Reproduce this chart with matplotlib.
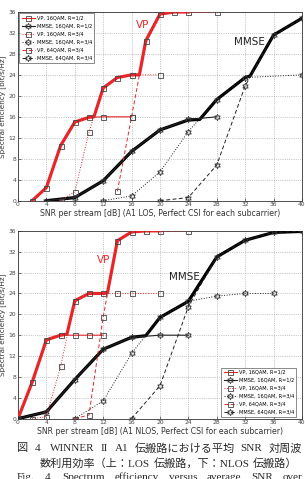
import re
import matplotlib
matplotlib.use("Agg")
import matplotlib.pyplot as plt

plt.rcParams['font.family'] = ['DejaVu Sans']

xticks = [0, 4, 8, 12, 16, 20, 24, 28, 32, 36, 40]
yticks = [0, 4, 8, 12, 16, 20, 24, 28, 32, 36]

# ---- Top: A1 LOS ----
los_vp_env_x = [2, 4, 6, 8, 10, 10.7, 12, 14, 16, 17.1, 18, 20, 22, 24]
los_vp_env_y = [0, 2.5, 10.5, 15, 15.9, 16.0, 21.5, 23.5, 24, 24, 30.5, 35.6, 36, 36]
los_mm_env_x = [4, 8, 12, 16, 20, 24, 25.6, 28, 32, 32.7, 36, 40]
los_mm_env_y = [0, 0.6, 3.8, 9.4, 13.5, 15.4, 15.5, 19.3, 23.5, 23.8, 31.6, 34.8]

los_vp16_12_x = [2, 4, 6, 8, 10, 12, 16]
los_vp16_12_y = [0, 2.5, 10.5, 15, 15.9, 16, 16]
los_mm16_12_x = [4, 8, 12, 16, 20, 24, 28]
los_mm16_12_y = [0, 0.6, 3.8, 9.4, 13.5, 15.5, 16]
los_vp16_34_x = [6, 8, 10, 12, 14, 16, 20]
los_vp16_34_y = [0, 1.7, 13.1, 21.5, 23.5, 24, 24]
los_mm16_34_x = [12, 16, 20, 24, 28, 32, 40]
los_mm16_34_y = [0, 0.9, 5.5, 13.2, 19.3, 23.5, 24]
los_vp64_34_x = [14, 16, 18, 20, 22, 24, 28]
los_vp64_34_y = [1.8, 16, 30.5, 35.7, 36, 36, 36]
los_mm64_34_x = [20, 24, 28, 32, 36, 40]
los_mm64_34_y = [0, 0.6, 6.8, 21.9, 31.6, 34.8]

# ---- Bottom: A1 NLOS ----
nlos_vp_env_x = [0, 2, 4, 6, 6.9, 8, 10, 12, 12.6, 14, 16, 18, 20]
nlos_vp_env_y = [0, 7, 15.1, 16, 16.2, 22.6, 24, 24, 24.1, 34.1, 35.8, 36, 36]
nlos_mm_env_x = [0, 4, 8, 12, 16, 18, 20, 24, 28, 32, 36, 40]
nlos_mm_env_y = [0, 1.3, 7.5, 13.3, 15.6, 15.9, 19.4, 22.5, 31, 34.2, 35.7, 35.9]

nlos_vp16_12_x = [0, 2, 4, 6, 8, 10, 12]
nlos_vp16_12_y = [0, 7, 15.1, 16, 16, 16, 16]
nlos_mm16_12_x = [0, 4, 8, 12, 16, 20, 24]
nlos_mm16_12_y = [0, 1.3, 7.5, 13.3, 15.6, 16, 16]
nlos_vp16_34_x = [2, 4, 6, 8, 10, 12, 14, 16, 20]
nlos_vp16_34_y = [0, 0.4, 10, 22.6, 24, 24, 24, 24, 24]
nlos_mm16_34_x = [8, 12, 16, 20, 24, 28, 32, 36]
nlos_mm16_34_y = [0, 3.4, 12.5, 19.4, 22.5, 23.5, 24, 24]
nlos_vp64_34_x = [8, 10, 12, 14, 16, 18, 20, 24]
nlos_vp64_34_y = [0, 0.7, 19.5, 34.1, 35.8, 36, 36, 36]
nlos_mm64_34_x = [16, 20, 24, 28, 32, 36, 40]
nlos_mm64_34_y = [0, 6.3, 21.5, 31, 34.2, 35.7, 35.9]

legend_labels = ['VP, 16QAM, R=1/2', 'MMSE, 16QAM, R=1/2', 'VP, 16QAM, R=3/4',
                 'MMSE, 16QAM, R=3/4', 'VP, 64QAM, R=3/4', 'MMSE, 64QAM, R=3/4']

caption_lines = ['図 4　WINNER II A1 伝搬路における平均 SNR 対周波',
                 '数利用効率（上：LOS 伝搬路，下：NLOS 伝搬路）',
                 'Fig. 4  Spectrum efficiency versus average SNR over']

RED = '#e8262a'
HEX = (6, 1, 0)
ms = 3.6
W, H = 305, 479

fig = plt.figure(figsize=(3.05, 4.79), dpi=100)


def draw(ax, d, xlabel, vp_txt, mm_txt, legend_loc, legend_anchor):
    (vpe, mme, vp12, mm12, vp34, mm34, vp64, mm64) = d
    ax.plot(*vpe, color=RED, lw=2.3, zorder=3)
    ax.plot(*mme, color='black', lw=2.3, zorder=3)
    h = []
    h += ax.plot(*vp12, color=RED, lw=0.8, ls='-', marker='s', ms=ms, mfc='none', mec='#444444', mew=0.6, zorder=4)
    h += ax.plot(*mm12, color='#222222', lw=0.8, ls='-', marker=HEX, ms=ms + 1, mfc='none', mec='#333333', mew=0.6, zorder=4)
    h += ax.plot(*vp34, color=RED, lw=0.7, ls=':', marker='s', ms=ms, mfc='none', mec='#444444', mew=0.6, zorder=4)
    h += ax.plot(*mm34, color='#222222', lw=0.7, ls=':', marker=HEX, ms=ms + 1, mfc='none', mec='#333333', mew=0.6, zorder=4)
    h += ax.plot(*vp64, color=RED, lw=0.7, ls=(0, (4, 2.5)), marker='s', ms=ms, mfc='none', mec='#444444', mew=0.6, zorder=4)
    h += ax.plot(*mm64, color='#222222', lw=0.7, ls=(0, (4, 2.5)), marker=HEX, ms=ms + 1, mfc='none', mec='#333333', mew=0.6, zorder=4)
    ax.set_xlim(0, 40)
    ax.set_ylim(0, 36)
    ax.set_xticks(xticks)
    ax.set_yticks(yticks)
    ax.tick_params(labelsize=4.3, length=2, width=0.5, pad=1.2, direction='in', colors='#444444')
    ax.grid(True, ls=':', lw=0.5, color='#999999')
    for s in ax.spines.values():
        s.set_linewidth(0.6)
        s.set_color('#333333')
    ax.set_xlabel(xlabel, fontsize=5.6, labelpad=1, color='#333333')
    ax.set_ylabel('Spectral efficiency [bit/s/Hz]', fontsize=5.2, color='#333333')
    ax.yaxis.set_label_coords(-0.042, 0.5)
    ax.text(vp_txt[0], vp_txt[1], 'VP', color=RED, fontsize=7.5, ha='center', va='center')
    ax.text(mm_txt[0], mm_txt[1], 'MMSE', color='#222222', fontsize=7.5, ha='center', va='center')
    leg = ax.legend(h, legend_labels, loc=legend_loc, bbox_to_anchor=legend_anchor, fontsize=3.6,
                    frameon=True, fancybox=False, edgecolor='#333333', handlelength=2.6,
                    handletextpad=0.4, borderpad=0.45, labelspacing=0.6, borderaxespad=0.3)
    leg.get_frame().set_linewidth(0.5)
    leg.set_zorder(6)


ax1 = fig.add_axes([0.059, 0.581, 0.931, 0.394])
draw(ax1,
     [(los_vp_env_x, los_vp_env_y), (los_mm_env_x, los_mm_env_y),
      (los_vp16_12_x, los_vp16_12_y), (los_mm16_12_x, los_mm16_12_y),
      (los_vp16_34_x, los_vp16_34_y), (los_mm16_34_x, los_mm16_34_y),
      (los_vp64_34_x, los_vp64_34_y), (los_mm64_34_x, los_mm64_34_y)],
     'SNR per stream [dB] (A1 LOS, Perfect CSI for each subcarrier)',
     (17.6, 33.5), (32.6, 30.2), 'upper left', (0.0, 1.0))

ax2 = fig.add_axes([0.059, 0.126, 0.931, 0.392])
draw(ax2,
     [(nlos_vp_env_x, nlos_vp_env_y), (nlos_mm_env_x, nlos_mm_env_y),
      (nlos_vp16_12_x, nlos_vp16_12_y), (nlos_mm16_12_x, nlos_mm16_12_y),
      (nlos_vp16_34_x, nlos_vp16_34_y), (nlos_mm16_34_x, nlos_mm16_34_y),
      (nlos_vp64_34_x, nlos_vp64_34_y), (nlos_mm64_34_x, nlos_mm64_34_y)],
     'SNR per stream [dB] (A1 NLOS, Perfect CSI for each subcarrier)',
     (12.1, 30.5), (23.4, 27.1), 'lower right', (0.985, 0.0))

# ---- justified caption: extra space only at word gaps ----
cap_family = ['Liberation Serif', 'Noto Sans CJK JP']
fig.canvas.draw()
renderer = fig.canvas.get_renderer()


def justify(line, x0, x1, ypx, size, weight='normal'):
    parts = [p for p in re.split(r'([ \u3000]+)', line) if p != '']

    def layout(sz):
        objs = []
        natural = 0.0
        space_w = sz * 100 / 72 * 0.25
        for p in parts:
            if p.strip(' \u3000') == '':
                g = sum(space_w * (2.5 if c == '\u3000' else 1.0) for c in p)
                objs.append(['gap', g])
                natural += g
            else:
                txt = fig.text(0, 1 - ypx / H, p, fontsize=sz, family=cap_family,
                               va='center', ha='left', color='#2a2a2a', fontweight=weight)
                w = txt.get_window_extent(renderer).width
                objs.append(['tok', txt, w])
                natural += w
        return objs, natural

    objs, natural = layout(size)
    if natural > (x1 - x0):
        for o in objs:
            if o[0] == 'tok':
                o[1].remove()
        objs, natural = layout(size * (x1 - x0) / natural * 0.97)
    ngap = sum(1 for o in objs if o[0] == 'gap')
    extra = max(0.0, (x1 - x0) - natural) / max(1, ngap)
    x = x0
    for o in objs:
        if o[0] == 'gap':
            x += o[1] + extra
        else:
            o[1].set_x(x / W)
            x += o[2]


justify(caption_lines[0], 17, 302, 448.5, 8.0)
justify(caption_lines[1], 40, 297, 463.5, 8.0)
justify(caption_lines[2], 17, 302, 477.5, 8.0)

fig.savefig('out.png', dpi=100)
